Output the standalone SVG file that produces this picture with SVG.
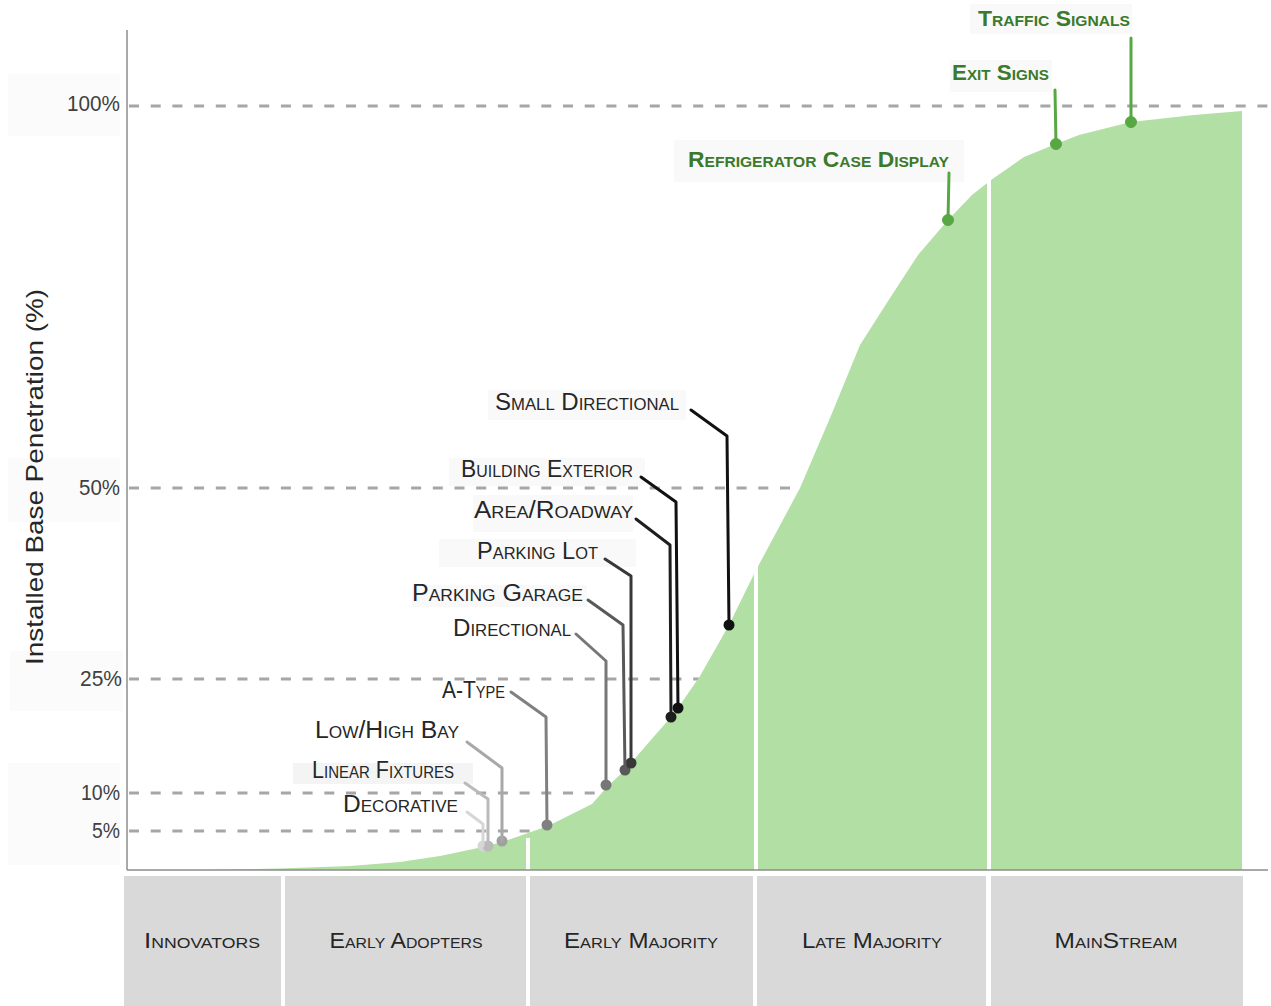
<svg xmlns="http://www.w3.org/2000/svg" width="1271" height="1006" viewBox="0 0 1271 1006">
<style>
.t{font-family:"Liberation Sans",Arial,sans-serif}
.lbl{font-variant:small-caps;font-size:23px;fill:#262626;text-anchor:end}
.glbl{font-variant:small-caps;font-weight:bold;font-size:22px;fill:#3b7a2b;text-anchor:end}
.cat{font-variant:small-caps;font-size:22px;fill:#262626;text-anchor:middle}
.tick{font-size:22px;fill:#404040;text-anchor:end}
.grid{stroke:#a6a6a6;stroke-width:3;stroke-dasharray:10 11.7;fill:none}
.lead{fill:none;stroke-width:3;stroke-linejoin:round;stroke-linecap:round}
.bg{fill:#f9f9f9}
.tbg{fill:#fbfbfb}
.bar{fill:#d9d9d9}
.sep{stroke:#ffffff;stroke-width:4}
.axis{stroke:#8c8c8c;stroke-width:1.5;fill:none}
.green{stroke:#57a843;fill:#57a843}
</style>
<rect width="1271" height="1006" fill="#ffffff"/>

<g id="tick-backgrounds">
<rect class="tbg" x="8" y="74" width="112" height="62"/>
<rect class="tbg" x="8" y="458" width="112" height="64"/>
<rect class="tbg" x="10" y="651" width="113" height="60"/>
<rect class="tbg" x="8" y="763" width="112" height="102"/>
</g>

<g id="gridlines">
<line class="grid" x1="129" y1="106" x2="1268" y2="106"/>
<line class="grid" x1="129" y1="488" x2="820" y2="488"/>
<line class="grid" x1="129" y1="679" x2="720" y2="679"/>
<line class="grid" x1="129" y1="793" x2="630" y2="793"/>
<line class="grid" x1="129" y1="831" x2="560" y2="831"/>
</g>

<g id="adoption-curve">
<path fill="#b2dfa3" d="M127,870 L200,870 L280,868.5 L350,866 L400,862 L440,856 L483,847 L502,842 L548,826 L592,804 L607,787 L625,770 L631,763 L650,741 L671,717 L678,708 L700,676 L729,625 L755,572 L800,488 L830,418 L860,345 L890,298 L918,255 L948,220 L972,195 L991,180 L1024,157 L1056,144 L1079,135 L1131,122 L1194,115 L1242,111 L1242,870 Z"/>
<line class="sep" x1="528" y1="838" x2="528" y2="872"/>
<line class="sep" x1="756" y1="566" x2="756" y2="872"/>
<line class="sep" x1="989" y1="180" x2="989" y2="872"/>
</g>

<g id="axes">
<line class="axis" x1="127" y1="30" x2="127" y2="870"/>
<line class="axis" x1="127" y1="870" x2="1268" y2="870"/>
</g>

<g id="tick-labels" class="t">
<text class="tick" x="120" y="111" textLength="53" lengthAdjust="spacingAndGlyphs">100%</text>
<text class="tick" x="120" y="495" textLength="41" lengthAdjust="spacingAndGlyphs">50%</text>
<text class="tick" x="122" y="686" textLength="42" lengthAdjust="spacingAndGlyphs">25%</text>
<text class="tick" x="120" y="800" textLength="39" lengthAdjust="spacingAndGlyphs">10%</text>
<text class="tick" x="120" y="838" textLength="28" lengthAdjust="spacingAndGlyphs">5%</text>
</g>

<g id="y-axis-title" class="t">
<text x="0" y="0" transform="translate(43,477) rotate(-90)" text-anchor="middle" font-size="24" fill="#262626" textLength="376" lengthAdjust="spacingAndGlyphs">Installed Base Penetration (%)</text>
</g>

<g id="node-decorative" class="t">
<circle cx="483" cy="846" r="5.5" fill="#d6d6d6"/>
<text class="lbl" x="458" y="812" textLength="115" lengthAdjust="spacingAndGlyphs">Decorative</text>
</g>
<g id="node-linear-fixtures" class="t">
<rect x="293" y="763" width="180" height="21" fill="#f4f4f4"/>
<circle cx="488" cy="846" r="5.5" fill="#bababa"/>
<text class="lbl" x="454" y="778" textLength="142" lengthAdjust="spacingAndGlyphs">Linear Fixtures</text>
</g>
<g id="node-low-high-bay" class="t">
<circle cx="502" cy="841" r="5.5" fill="#a0a0a0"/>
<text class="lbl" x="459" y="738" textLength="144" lengthAdjust="spacingAndGlyphs">Low/High Bay</text>
</g>
<g id="node-a-type" class="t">
<circle cx="547" cy="825" r="5.5" fill="#808080"/>
<text class="lbl" x="505" y="698" textLength="63" lengthAdjust="spacingAndGlyphs">A-Type</text>
</g>
<g id="node-directional" class="t">
<circle cx="606" cy="785" r="5.5" fill="#777777"/>
<text class="lbl" x="571" y="636" textLength="118" lengthAdjust="spacingAndGlyphs">Directional</text>
</g>
<g id="node-parking-garage" class="t">
<rect class="bg" x="412" y="585" width="175" height="22"/>
<circle cx="625" cy="770" r="5.5" fill="#595959"/>
<text class="lbl" x="583" y="601" textLength="171" lengthAdjust="spacingAndGlyphs">Parking Garage</text>
</g>
<g id="node-parking-lot" class="t">
<rect class="bg" x="439" y="539" width="197" height="28"/>
<circle cx="631" cy="763" r="5.5" fill="#383838"/>
<text class="lbl" x="598" y="559" textLength="121" lengthAdjust="spacingAndGlyphs">Parking Lot</text>
</g>
<g id="node-area-roadway" class="t">
<rect class="bg" x="473" y="495" width="160" height="37"/>
<circle cx="671" cy="717" r="5.5" fill="#1e1e1e"/>
<text class="lbl" x="633" y="518" textLength="159" lengthAdjust="spacingAndGlyphs">Area/Roadway</text>
</g>
<g id="node-building-exterior" class="t">
<rect class="bg" x="449" y="458" width="196" height="28"/>
<circle cx="678" cy="708" r="5.5" fill="#111111"/>
<text class="lbl" x="633" y="477" textLength="172" lengthAdjust="spacingAndGlyphs">Building Exterior</text>
</g>
<g id="node-small-directional" class="t">
<rect class="bg" x="488" y="390" width="198" height="30"/>
<circle cx="729" cy="625" r="5.5" fill="#111111"/>
<text class="lbl" x="679" y="410" textLength="184" lengthAdjust="spacingAndGlyphs">Small Directional</text>
</g>
<g id="node-refrigerator-case-display" class="t">
<rect class="bg" x="674" y="140" width="290" height="42"/>
<circle class="green" cx="948" cy="220" r="5.5"/>
<text class="glbl" x="949" y="167" textLength="261" lengthAdjust="spacingAndGlyphs">Refrigerator Case Display</text>
</g>
<g id="node-exit-signs" class="t">
<rect class="bg" x="950" y="60" width="102" height="32"/>
<circle class="green" cx="1056" cy="144" r="5.5"/>
<text class="glbl" x="1049" y="80" textLength="97" lengthAdjust="spacingAndGlyphs">Exit Signs</text>
</g>
<g id="node-traffic-signals" class="t">
<rect class="bg" x="970" y="4" width="162" height="30"/>
<circle class="green" cx="1131" cy="122" r="5.5"/>
<text class="glbl" x="1130" y="26" textLength="152" lengthAdjust="spacingAndGlyphs">Traffic Signals</text>
</g>

<g id="connectors">
<polyline class="lead" stroke="#d6d6d6" points="467,812 483,824 483,846"/>
<polyline class="lead" stroke="#bababa" points="465,783 488,799 488,846"/>
<polyline class="lead" stroke="#a8a8a8" points="467,742 502,768 502,841"/>
<polyline class="lead" stroke="#808080" points="511,692 546,717 547,825"/>
<polyline class="lead" stroke="#777777" points="576,634 606,661 606,785"/>
<polyline class="lead" stroke="#595959" points="588,600 623,625 625,770"/>
<polyline class="lead" stroke="#383838" points="605,559 631,576 631,763"/>
<polyline class="lead" stroke="#1e1e1e" points="636,519 670,545 671,717"/>
<polyline class="lead" stroke="#111111" points="641,477 676,502 678,708"/>
<polyline class="lead" stroke="#111111" points="691,410 727,436 729,625"/>
<polyline class="lead green" fill="none" points="949,173 948,220"/>
<polyline class="lead green" fill="none" points="1055,90 1056,144"/>
<polyline class="lead green" fill="none" points="1131,38 1131,122"/>
</g>

<g id="node-innovators" class="t">
<rect class="bar" x="124" y="876" width="157" height="130"/>
<text class="cat" x="202" y="948" textLength="116" lengthAdjust="spacingAndGlyphs">Innovators</text>
</g>
<g id="node-early-adopters" class="t">
<rect class="bar" x="285" y="876" width="241" height="130"/>
<text class="cat" x="406" y="948" textLength="153" lengthAdjust="spacingAndGlyphs">Early Adopters</text>
</g>
<g id="node-early-majority" class="t">
<rect class="bar" x="530" y="876" width="223" height="130"/>
<text class="cat" x="641" y="948" textLength="154" lengthAdjust="spacingAndGlyphs">Early Majority</text>
</g>
<g id="node-late-majority" class="t">
<rect class="bar" x="757" y="876" width="229" height="130"/>
<text class="cat" x="872" y="948" textLength="140" lengthAdjust="spacingAndGlyphs">Late Majority</text>
</g>
<g id="node-mainstream" class="t">
<rect class="bar" x="991" y="876" width="252" height="130"/>
<text class="cat" x="1116" y="948" textLength="123" lengthAdjust="spacingAndGlyphs">MainStream</text>
</g>
</svg>
